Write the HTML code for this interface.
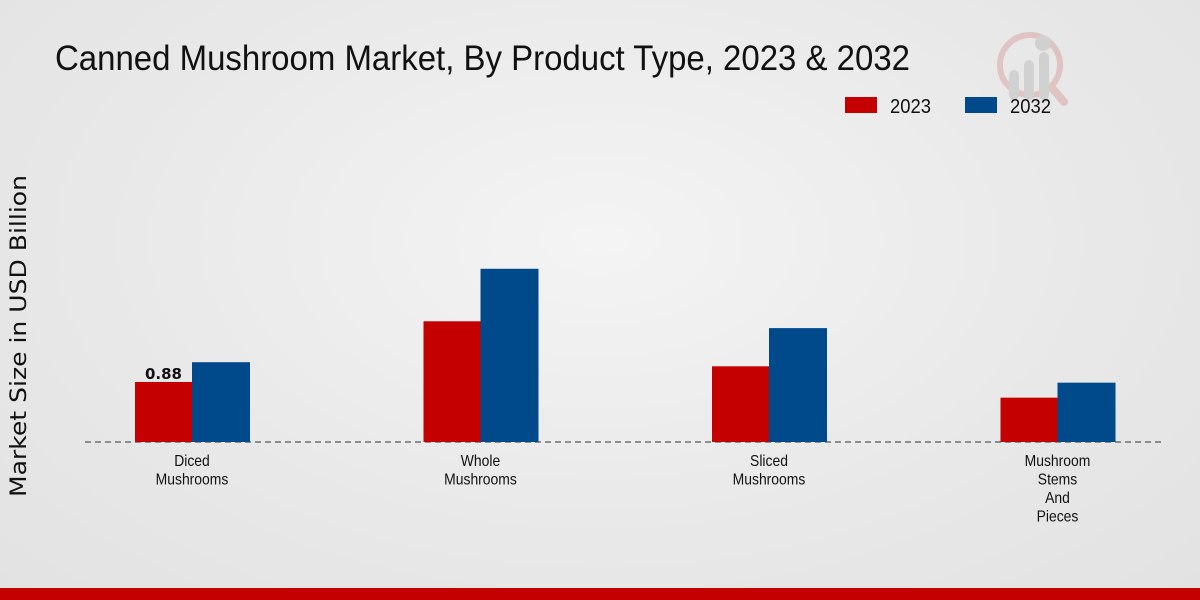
<!DOCTYPE html>
<html><head><meta charset="utf-8"><style>
html,body{margin:0;padding:0}
body{width:1200px;height:600px;overflow:hidden;background:radial-gradient(ellipse at 50% 40%,#f4f4f4 0%,#e8e8e8 60%,#e2e2e2 100%);font-family:"Liberation Sans Narrow","Liberation Sans",sans-serif;position:relative}
svg{position:absolute;left:0;top:0}
</style></head><body>
<svg width="1200" height="600">
<g opacity="0.5">
<circle cx="1030" cy="65" r="30" fill="none" stroke="#d9a0a0" stroke-width="6"/>
<line x1="1052" y1="88" x2="1064" y2="102" stroke="#d9a0a0" stroke-width="8" stroke-linecap="round"/>
<rect x="1009" y="70" width="10" height="30" rx="5" fill="#bbb"/>
<rect x="1024" y="60" width="10" height="40" rx="5" fill="#bbb"/>
<rect x="1039" y="52" width="10" height="48" rx="5" fill="#bbb"/>
<circle cx="1043" cy="43" r="8" fill="#bbb"/>
</g>
<text x="55" y="70" font-size="35" fill="#111" textLength="855" lengthAdjust="spacingAndGlyphs">Canned Mushroom Market, By Product Type, 2023 &amp; 2032</text>
<g>
<rect x="845" y="97" width="32" height="16" fill="#c40000"/>
<text x="890" y="113" font-size="20" fill="#111" textLength="41" lengthAdjust="spacingAndGlyphs">2023</text>
<rect x="965" y="97" width="32" height="16" fill="#004a8c"/>
<text x="1010" y="113" font-size="20" fill="#111" textLength="41" lengthAdjust="spacingAndGlyphs">2032</text>
</g>
<text transform="translate(26,336) rotate(-90)" text-anchor="middle" font-family="'DejaVu Sans',sans-serif" font-size="22" fill="#111" textLength="322" lengthAdjust="spacingAndGlyphs">Market Size in USD Billion</text>
<line x1="85" y1="442" x2="1165" y2="442" stroke="#333" stroke-dasharray="6,4"/>
<g id="bars"></g>
<g id="labels"></g>
<rect x="0" y="588" width="1200" height="12" fill="#c40000"/>
</svg>
<script>
const categories=[["Diced","Mushrooms"],["Whole","Mushrooms"],["Sliced","Mushrooms"],["Mushroom","Stems","And","Pieces"]];
const values2023=[0.88,1.77,1.11,0.65];
const values2032=[1.17,2.54,1.67,0.87];
const NS="http://www.w3.org/2000/svg";
const base=442, scale=68.2, x0=192, step=288.5, bw=57;
const y=v=>base-v*scale;
const bars=document.getElementById('bars'), labels=document.getElementById('labels');
function mk(t,a){const e=document.createElementNS(NS,t);for(const k in a)e.setAttribute(k,a[k]);return e;}
categories.forEach((c,i)=>{
  const cx=x0+i*step;
  const r1=mk('rect',{x:cx-bw,y:y(values2023[i]),width:bw,height:base-y(values2023[i]),fill:'#c40000'});
  
  
  bars.appendChild(r1);
  const r2=mk('rect',{x:cx,y:y(values2032[i]),width:bw+1,height:base-y(values2032[i]),fill:'#004a8c'});
  
  
  bars.appendChild(r2);
  const t=mk('text',{transform:'translate('+cx+',0) scale(0.87,1)','text-anchor':'middle','font-size':'16',fill:'#111'});
  
  
  c.forEach((l,j)=>{const s=mk('tspan',{x:0,y:466+j*18.5});s.textContent=l;t.appendChild(s);});
  labels.appendChild(t);
});
const v=mk('text',{x:x0-bw/2,y:y(values2023[0])-3,'text-anchor':'middle','font-size':'15','font-weight':'bold','font-family':"'DejaVu Sans',sans-serif",fill:'#111'});
v.textContent=values2023[0].toFixed(2);


labels.appendChild(v);
</script>
</body></html>
